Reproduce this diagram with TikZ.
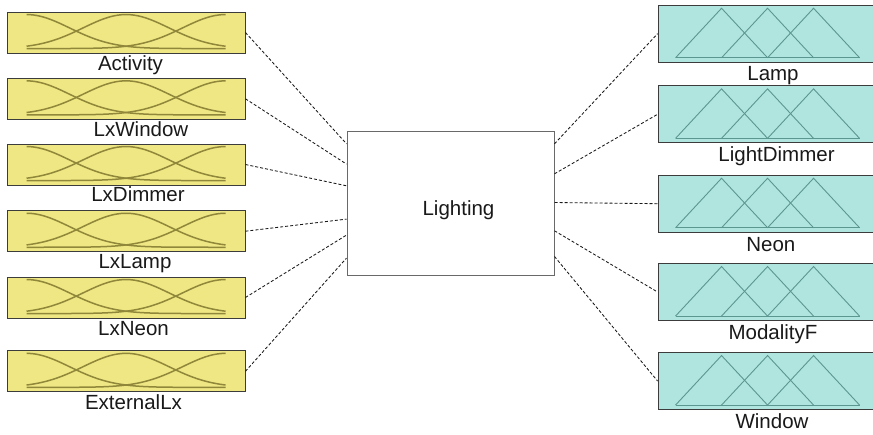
\documentclass[tikz,border=0pt]{standalone}
\usepackage{fontspec}
\setmainfont{Liberation Sans}
\definecolor{infill}{RGB}{238,231,132}
\definecolor{curve}{RGB}{145,135,58}
\definecolor{outfill}{RGB}{176,228,222}
\definecolor{tri}{RGB}{92,150,145}
\definecolor{boxgray}{RGB}{60,60,60}
\definecolor{maingray}{RGB}{105,105,105}
\definecolor{txt}{RGB}{25,25,25}

% Gaussian membership functions inside an input box
\newcommand\gausscurves[1]{%
  \begin{scope}[shift={(#1.north west)}]
    \foreach \c in {20,119.5,219}
      \draw[mfcurve] plot[domain=20:219, samples=80, smooth]
        (\x, {37-34*exp(-0.5*((\x-\c)/43)^2)});
  \end{scope}}

% Triangular membership functions inside an output box
\newcommand\tricurves[1]{%
  \begin{scope}[shift={(#1.north west)}]
    \foreach \a in {18,64,110}
      \draw[mftri] (\a,53) -- ({\a+46},3.5) -- ({\a+92},53);
    \draw[mftri] (18,53) -- (202,53);
  \end{scope}}

\begin{document}
\begin{tikzpicture}[x=1pt,y=-1pt,
  inbox/.style={rectangle, draw=boxgray, line width=0.9pt, fill=infill,
    minimum width=238pt, minimum height=41pt, inner sep=0pt},
  outbox/.style={rectangle, draw=boxgray, line width=0.9pt, fill=outfill,
    minimum width=230pt, minimum height=57pt, inner sep=0pt},
  mainbox/.style={rectangle, draw=maingray, line width=1pt, fill=white,
    minimum width=207pt, minimum height=144pt, inner sep=0pt},
  varlabel/.style={anchor=base, inner sep=0pt, text=txt,
    font=\fontsize{20.5}{24}\selectfont},
  link/.style={dash pattern=on 3pt off 2pt, line width=0.85pt, draw=black!90},
  mfcurve/.style={draw=curve, line width=1.5pt},
  mftri/.style={draw=tri, line width=0.9pt, line join=miter}]

\clip (0,0) rectangle (873,434);
\fill[white] (0,0) rectangle (873,434);

% central rule block
\node[mainbox] (L) at (450.5,203) {};
\node[varlabel] (Ltxt) at (458.5,215) {Lighting};

% input variables
\node[inbox] (iA) at (126,32.5)  {};
\node[inbox] (iW) at (126,98.8)  {};
\node[inbox] (iD) at (126,164.5) {};
\node[inbox] (iL) at (126,231.2) {};
\node[inbox] (iN) at (126,297.5) {};
\node[inbox] (iE) at (126,371.3) {};
\foreach \n in {iA,iW,iD,iL,iN,iE} {\gausscurves{\n}}

\node[varlabel] (tA) at (130.5,70.7) {Activity};
\node[varlabel] (tW) at (141,136)    {LxWindow};
\node[varlabel] (tD) at (138,201.7)  {LxDimmer};
\node[varlabel] (tL) at (135,268)    {LxLamp};
\node[varlabel] (tN) at (133.5,335)  {LxNeon};
\node[varlabel] (tE) at (133.5,409)  {ExternalLx};

% output variables
\node[outbox] (oLamp) at (773,33.7)  {};
\node[outbox] (oDim)  at (773,114.3) {};
\node[outbox] (oNeon) at (773,203.7) {};
\node[outbox] (oMod)  at (773,292)   {};
\node[outbox] (oWin)  at (773,381)   {};
\foreach \n in {oLamp,oDim,oNeon,oMod,oWin} {\tricurves{\n}}

\node[varlabel] (uLamp) at (773,80)     {Lamp};
\node[varlabel] (uDim)  at (776.5,161.7) {LightDimmer};
\node[varlabel] (uNeon) at (770.8,251.7) {Neon};
\node[varlabel] (uMod)  at (773,339.3)  {ModalityF};
\node[varlabel] (uWin)  at (772,428.3)  {Window};

% attachment points on the rule block
\coordinate (Lw1) at ([yshift=-13.3pt]L.north west);
\coordinate (Lw2) at ([yshift=-33.6pt]L.north west);
\coordinate (Lw3) at ([yshift=-55.3pt]L.north west);
\coordinate (Lw4) at ([yshift=-88.6pt]L.north west);
\coordinate (Lw5) at ([yshift=-104.6pt]L.north west);
\coordinate (Lw6) at ([yshift=-127.6pt]L.north west);
\coordinate (Le1) at ([yshift=-13.3pt]L.north east);
\coordinate (Le2) at ([yshift=-43.3pt]L.north east);
\coordinate (Le3) at ([yshift=-72pt]L.north east);
\coordinate (Le4) at ([yshift=-100.3pt]L.north east);
\coordinate (Le5) at ([yshift=-126pt]L.north east);

% connectors
\draw[link] (iA.east) -- (Lw1);
\draw[link] (iW.east) -- (Lw2);
\draw[link] (iD.east) -- (Lw3);
\draw[link] (iL.east) -- (Lw4);
\draw[link] (iN.east) -- (Lw5);
\draw[link] (iE.east) -- (Lw6);
\draw[link] (Le1) -- (oLamp.west);
\draw[link] (Le2) -- (oDim.west);
\draw[link] (Le3) -- (oNeon.west);
\draw[link] (Le4) -- (oMod.west);
\draw[link] (Le5) -- (oWin.west);
\end{tikzpicture}
\end{document}
